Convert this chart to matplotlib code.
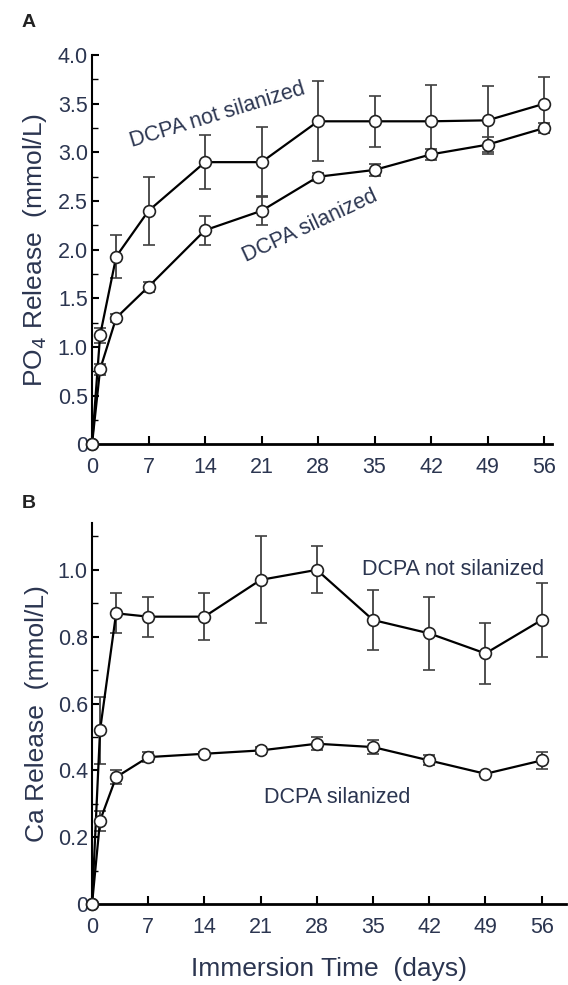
import numpy as np
import matplotlib
matplotlib.use("Agg")
import matplotlib.pyplot as plt
from matplotlib.ticker import MultipleLocator

plt.rcParams['font.family'] = ['Liberation Sans', 'DejaVu Sans']

days = [0, 1, 3, 7, 14, 21, 28, 35, 42, 49, 56]

# panel A - PO4 release (mmol/L)
po4_not_sil = [0, 1.12, 1.93, 2.40, 2.90, 2.90, 3.32, 3.32, 3.32, 3.33, 3.50]
po4_not_sil_err = [0, 0.08, 0.22, 0.35, 0.28, 0.36, 0.41, 0.26, 0.37, 0.35, 0.28]
po4_sil = [0, 0.77, 1.30, 1.62, 2.20, 2.40, 2.75, 2.82, 2.98, 3.08, 3.25]
po4_sil_err = [0, 0.06, 0.04, 0.05, 0.15, 0.15, 0.04, 0.06, 0.06, 0.08, 0.05]

# panel B - Ca release (mmol/L)
ca_not_sil = [0, 0.52, 0.87, 0.86, 0.86, 0.97, 1.00, 0.85, 0.81, 0.75, 0.85]
ca_not_sil_err = [0, 0.10, 0.06, 0.06, 0.07, 0.13, 0.07, 0.09, 0.11, 0.09, 0.11]
ca_sil = [0, 0.25, 0.38, 0.44, 0.45, 0.46, 0.48, 0.47, 0.43, 0.39, 0.43]
ca_sil_err = [0, 0.03, 0.02, 0.015, 0.005, 0.01, 0.02, 0.02, 0.015, 0.005, 0.025]

xticks = [0, 7, 14, 21, 28, 35, 42, 49, 56]

txt = '#2b3550'

fig = plt.figure(figsize=(5.68, 9.85), dpi=100)
axA = fig.add_axes([0.162, 0.549, 0.81, 0.395])
axB = fig.add_axes([0.162, 0.082, 0.834, 0.387])


def draw(ax, y, err):
    ax.errorbar(days, y, yerr=err, color='black', lw=1.6, ecolor='#404040',
                elinewidth=1.3, capsize=4, capthick=2, marker='o', ms=8.5,
                mfc='white', mec='#222222', mew=1.2, clip_on=False, zorder=3)


def style(ax):
    for s in ['top', 'right']:
        ax.spines[s].set_visible(False)
    ax.spines['left'].set_linewidth(1.5)
    ax.spines['bottom'].set_linewidth(2)
    ax.set_xticks(xticks)
    ax.tick_params(axis='both', direction='in', labelsize=15.5, labelcolor=txt)
    ax.tick_params(axis='x', length=6, width=1.5, pad=9)
    ax.tick_params(axis='y', which='major', length=5, width=1.5, pad=3)
    ax.tick_params(axis='y', which='minor', direction='in', length=4, width=1)


draw(axA, po4_not_sil, po4_not_sil_err)
draw(axA, po4_sil, po4_sil_err)
axA.set_xlim(0, 57)
axA.set_ylim(0, 4.0)
axA.set_yticks(np.arange(0, 4.01, 0.5))
axA.set_yticklabels(['0'] + ['%.1f' % v for v in np.arange(0.5, 4.01, 0.5)])
axA.yaxis.set_minor_locator(MultipleLocator(0.25))
style(axA)
axA.set_ylabel('PO$_4$ Release  (mmol/L)', fontsize=19, color=txt, labelpad=6)
axA.text(15.5, 3.38, 'DCPA not silanized', fontsize=15.5, color=txt, rotation=17,
         ha='center', va='center')
axA.text(27, 2.24, 'DCPA silanized', fontsize=15.5, color=txt, rotation=25,
         ha='center', va='center')
fig.text(0.038, 0.977, 'A', fontsize=14, fontweight='bold', color='#222222',
         ha='left', va='center')

draw(axB, ca_not_sil, ca_not_sil_err)
draw(axB, ca_sil, ca_sil_err)
axB.set_xlim(0, 59)
axB.set_ylim(0, 1.14)
axB.set_yticks(np.arange(0, 1.01, 0.2))
axB.set_yticklabels(['0', '0.2', '0.4', '0.6', '0.8', '1.0'])
axB.yaxis.set_minor_locator(MultipleLocator(0.1))
style(axB)
axB.set_ylabel('Ca Release  (mmol/L)', fontsize=19, color=txt, labelpad=6)
axB.set_xlabel('Immersion Time  (days)', fontsize=19, color=txt, labelpad=14)
axB.text(45, 1.0, 'DCPA not silanized', fontsize=15.5, color=txt,
         ha='center', va='center')
axB.text(30.5, 0.32, 'DCPA silanized', fontsize=15.5, color=txt,
         ha='center', va='center')
fig.text(0.038, 0.489, 'B', fontsize=14, fontweight='bold', color='#222222',
         ha='left', va='center')

fig.savefig('out.png', dpi=100)
